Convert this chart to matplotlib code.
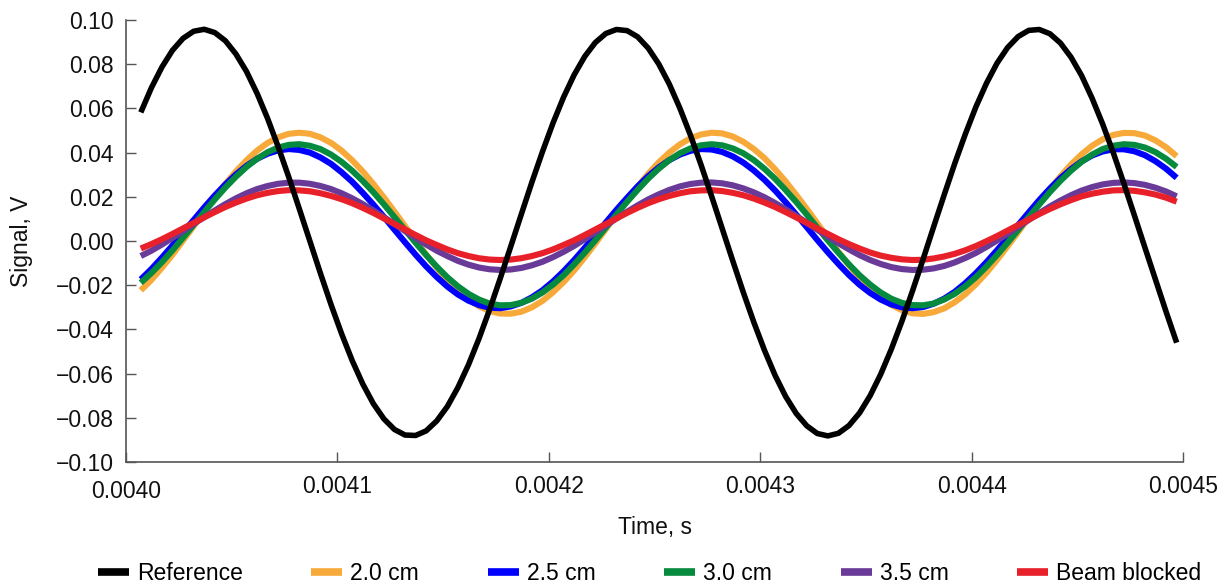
import matplotlib
matplotlib.use("Agg")
import matplotlib.pyplot as plt
from matplotlib.transforms import ScaledTranslation

plt.rcParams['font.family'] = ['Liberation Sans', 'DejaVu Sans']

# time samples in microseconds
time_us = [4007, 4012, 4017, 4022, 4027, 4032, 4037, 4042, 4047, 4052,
           4057, 4062, 4067, 4072, 4077, 4082, 4087, 4092, 4097, 4102,
           4107, 4112, 4117, 4122, 4127, 4132, 4137, 4142, 4147, 4152,
           4157, 4162, 4167, 4172, 4177, 4182, 4187, 4192, 4197, 4202,
           4207, 4212, 4217, 4222, 4227, 4232, 4237, 4242, 4247, 4252,
           4257, 4262, 4267, 4272, 4277, 4282, 4287, 4292, 4297, 4302,
           4307, 4312, 4317, 4322, 4327, 4332, 4337, 4342, 4347, 4352,
           4357, 4362, 4367, 4372, 4377, 4382, 4387, 4392, 4397, 4402,
           4407, 4412, 4417, 4422, 4427, 4432, 4437, 4442, 4447, 4452,
           4457, 4462, 4467, 4472, 4477, 4482, 4487, 4492, 4497]

reference = [0.0582, 0.0693, 0.0787, 0.0863, 0.0917, 0.0949, 0.0958, 0.0943, 0.0906, 0.0846,
             0.0767, 0.0668, 0.0554, 0.0426, 0.0289, 0.0145, -0.0001, -0.0147, -0.0288, -0.0420,
             -0.0541, -0.0647, -0.0736, -0.0805, -0.0853, -0.0878, -0.0880, -0.0859, -0.0814, -0.0749,
             -0.0663, -0.0560, -0.0441, -0.0310, -0.0170, -0.0025, 0.0121, 0.0266, 0.0404, 0.0534,
             0.0651, 0.0752, 0.0835, 0.0898, 0.0939, 0.0957, 0.0952, 0.0924, 0.0873, 0.0801,
             0.0710, 0.0601, 0.0479, 0.0345, 0.0203, 0.0057, -0.0089, -0.0232, -0.0368, -0.0494,
             -0.0607, -0.0703, -0.0780, -0.0836, -0.0871, -0.0882, -0.0870, -0.0835, -0.0778, -0.0700,
             -0.0603, -0.0490, -0.0364, -0.0227, -0.0084, 0.0063, 0.0208, 0.0350, 0.0483, 0.0606,
             0.0713, 0.0804, 0.0875, 0.0925, 0.0953, 0.0957, 0.0938, 0.0896, 0.0832, 0.0749,
             0.0646, 0.0529, 0.0400, 0.0261, 0.0116, -0.0030, -0.0175, -0.0320, -0.0460]

cm_2_0 = [-0.0223, -0.0176, -0.0121, -0.0062, 0.0002, 0.0067, 0.0132, 0.0197, 0.0258, 0.0315,
          0.0365, 0.0409, 0.0444, 0.0469, 0.0485, 0.0490, 0.0485, 0.0469, 0.0444, 0.0409,
          0.0365, 0.0315, 0.0258, 0.0197, 0.0133, 0.0067, 0.0002, -0.0061, -0.0121, -0.0176,
          -0.0223, -0.0264, -0.0295, -0.0317, -0.0328, -0.0329, -0.0320, -0.0300, -0.0271, -0.0232,
          -0.0186, -0.0133, -0.0074, -0.0011, 0.0054, 0.0119, 0.0184, 0.0246, 0.0304, 0.0356,
          0.0400, 0.0437, 0.0465, 0.0482, 0.0490, 0.0487, 0.0473, 0.0449, 0.0416, 0.0375,
          0.0325, 0.0270, 0.0209, 0.0146, 0.0080, 0.0015, -0.0049, -0.0110, -0.0165, -0.0214,
          -0.0256, -0.0289, -0.0313, -0.0327, -0.0330, -0.0322, -0.0305, -0.0277, -0.0241, -0.0196,
          -0.0144, -0.0086, -0.0024, 0.0040, 0.0106, 0.0171, 0.0234, 0.0292, 0.0346, 0.0392,
          0.0431, 0.0460, 0.0480, 0.0489, 0.0488, 0.0477, 0.0455, 0.0424, 0.0384]

cm_2_5 = [-0.0174, -0.0127, -0.0075, -0.0020, 0.0038, 0.0095, 0.0152, 0.0206, 0.0256, 0.0301,
          0.0340, 0.0372, 0.0395, 0.0410, 0.0416, 0.0412, 0.0400, 0.0378, 0.0349, 0.0311,
          0.0268, 0.0218, 0.0165, 0.0109, 0.0051, -0.0006, -0.0062, -0.0115, -0.0163, -0.0206,
          -0.0242, -0.0270, -0.0290, -0.0302, -0.0304, -0.0296, -0.0280, -0.0255, -0.0223, -0.0183,
          -0.0137, -0.0086, -0.0031, 0.0026, 0.0084, 0.0141, 0.0195, 0.0247, 0.0293, 0.0333,
          0.0366, 0.0391, 0.0408, 0.0416, 0.0414, 0.0403, 0.0383, 0.0355, 0.0319, 0.0277,
          0.0229, 0.0176, 0.0120, 0.0063, 0.0005, -0.0051, -0.0104, -0.0154, -0.0198, -0.0235,
          -0.0265, -0.0287, -0.0300, -0.0304, -0.0299, -0.0284, -0.0261, -0.0230, -0.0191, -0.0146,
          -0.0096, -0.0042, 0.0014, 0.0072, 0.0129, 0.0185, 0.0237, 0.0284, 0.0325, 0.0360,
          0.0387, 0.0405, 0.0415, 0.0415, 0.0406, 0.0388, 0.0361, 0.0327, 0.0286]

cm_3_0 = [-0.0189, -0.0145, -0.0096, -0.0042, 0.0015, 0.0073, 0.0131, 0.0188, 0.0242, 0.0291,
          0.0335, 0.0372, 0.0402, 0.0423, 0.0435, 0.0438, 0.0431, 0.0416, 0.0391, 0.0358,
          0.0318, 0.0272, 0.0221, 0.0166, 0.0108, 0.0050, -0.0008, -0.0064, -0.0116, -0.0164,
          -0.0205, -0.0239, -0.0265, -0.0283, -0.0291, -0.0290, -0.0280, -0.0261, -0.0233, -0.0197,
          -0.0155, -0.0106, -0.0053, 0.0003, 0.0061, 0.0120, 0.0177, 0.0231, 0.0282, 0.0327,
          0.0366, 0.0397, 0.0419, 0.0433, 0.0438, 0.0433, 0.0419, 0.0397, 0.0366, 0.0327,
          0.0282, 0.0231, 0.0177, 0.0120, 0.0061, 0.0003, -0.0053, -0.0106, -0.0155, -0.0197,
          -0.0233, -0.0261, -0.0280, -0.0290, -0.0291, -0.0283, -0.0265, -0.0239, -0.0205, -0.0164,
          -0.0116, -0.0064, -0.0008, 0.0050, 0.0108, 0.0165, 0.0221, 0.0272, 0.0318, 0.0358,
          0.0391, 0.0416, 0.0431, 0.0438, 0.0435, 0.0423, 0.0402, 0.0372, 0.0335]

cm_3_5 = [-0.0068, -0.0044, -0.0016, 0.0014, 0.0045, 0.0077, 0.0108, 0.0138, 0.0167, 0.0193,
          0.0216, 0.0235, 0.0249, 0.0259, 0.0264, 0.0264, 0.0259, 0.0249, 0.0235, 0.0216,
          0.0193, 0.0167, 0.0138, 0.0108, 0.0077, 0.0045, 0.0014, -0.0016, -0.0044, -0.0068,
          -0.0090, -0.0107, -0.0120, -0.0128, -0.0131, -0.0129, -0.0122, -0.0110, -0.0094, -0.0073,
          -0.0049, -0.0022, 0.0008, 0.0039, 0.0070, 0.0102, 0.0132, 0.0161, 0.0188, 0.0211,
          0.0231, 0.0247, 0.0258, 0.0264, 0.0265, 0.0261, 0.0252, 0.0238, 0.0220, 0.0198,
          0.0172, 0.0144, 0.0114, 0.0083, 0.0051, 0.0020, -0.0010, -0.0038, -0.0064, -0.0086,
          -0.0104, -0.0118, -0.0127, -0.0131, -0.0130, -0.0124, -0.0113, -0.0097, -0.0077, -0.0054,
          -0.0027, 0.0002, 0.0032, 0.0064, 0.0095, 0.0126, 0.0156, 0.0183, 0.0207, 0.0228,
          0.0244, 0.0256, 0.0263, 0.0265, 0.0262, 0.0254, 0.0241, 0.0224, 0.0202]

beam_blocked = [-0.0034, -0.0014, 0.0008, 0.0032, 0.0057, 0.0082, 0.0107, 0.0131, 0.0154, 0.0174,
                0.0192, 0.0207, 0.0218, 0.0226, 0.0230, 0.0229, 0.0225, 0.0216, 0.0204, 0.0189,
                0.0171, 0.0150, 0.0127, 0.0102, 0.0077, 0.0052, 0.0027, 0.0003, -0.0018, -0.0038,
                -0.0055, -0.0068, -0.0078, -0.0084, -0.0086, -0.0084, -0.0078, -0.0068, -0.0055, -0.0038,
                -0.0018, 0.0003, 0.0027, 0.0052, 0.0077, 0.0102, 0.0127, 0.0150, 0.0171, 0.0189,
                0.0204, 0.0216, 0.0225, 0.0229, 0.0230, 0.0226, 0.0218, 0.0207, 0.0192, 0.0174,
                0.0154, 0.0131, 0.0107, 0.0082, 0.0057, 0.0032, 0.0008, -0.0014, -0.0034, -0.0052,
                -0.0066, -0.0076, -0.0083, -0.0086, -0.0085, -0.0079, -0.0070, -0.0058, -0.0042, -0.0023,
                -0.0001, 0.0022, 0.0047, 0.0072, 0.0097, 0.0122, 0.0145, 0.0166, 0.0185, 0.0202,
                0.0214, 0.0223, 0.0229, 0.0230, 0.0227, 0.0220, 0.0210, 0.0196, 0.0178]

x_ticks = [0.0040, 0.0041, 0.0042, 0.0043, 0.0044, 0.0045]
x_tick_labels = ["0.0040", "0.0041", "0.0042", "0.0043", "0.0044", "0.0045"]
y_ticks = [-0.10, -0.08, -0.06, -0.04, -0.02, 0.00, 0.02, 0.04, 0.06, 0.08, 0.10]
y_tick_labels = ["\u22120.10", "\u22120.08", "\u22120.06", "\u22120.04", "\u22120.02",
                 "0.00", "0.02", "0.04", "0.06", "0.08", "0.10"]

t = [v * 1e-6 for v in time_us]

FS = 16.5
fig = plt.figure(figsize=(12.28, 5.88), dpi=100)
ax = fig.add_axes([126 / 1228, 1 - 462 / 588, (1183 - 126) / 1228, (462 - 20) / 588])

series = [
    ("2.0 cm", cm_2_0, "#F7A939"),
    ("2.5 cm", cm_2_5, "#0000FF"),
    ("3.0 cm", cm_3_0, "#068A3E"),
    ("3.5 cm", cm_3_5, "#6A3A98"),
    ("Beam blocked", beam_blocked, "#E8202A"),
]
handles = []
h_ref, = ax.plot(t, reference, color="black", lw=4.0, label="Reference", zorder=10,
                 solid_capstyle="butt", solid_joinstyle="round")
handles.append(h_ref)
for i, (lab, vals, col) in enumerate(series):
    h, = ax.plot(t, vals, color=col, lw=4.4, label=lab, zorder=3 + i,
                 solid_capstyle="butt", solid_joinstyle="round")
    handles.append(h)

ax.set_xlim(0.0040, 0.0045)
ax.set_ylim(-0.10, 0.10)
ax.set_xticks(x_ticks)
ax.set_xticklabels(x_tick_labels)
ax.set_yticks(y_ticks)
ax.set_yticklabels(y_tick_labels)

for s in ["top", "right"]:
    ax.spines[s].set_visible(False)
for s in ["left", "bottom"]:
    ax.spines[s].set_color("#555555")
    ax.spines[s].set_linewidth(1.2)

ax.tick_params(axis="both", direction="in", length=7.5, width=1.0, color="#555555",
               labelsize=FS, labelcolor="#111111")
ax.tick_params(axis="y", pad=9)
ax.tick_params(axis="x", pad=9.5)

# first x tick label sits slightly lower in the reference
first = ax.xaxis.get_major_ticks()[0].label1
first.set_transform(first.get_transform() + ScaledTranslation(0, -5 / 100, fig.dpi_scale_trans))

ax.set_xlabel("Time, s", fontsize=FS, color="#111111")
ax.xaxis.set_label_coords(0.5, -0.122)
ax.set_ylabel("Signal, V", fontsize=FS, color="#111111")
ax.yaxis.set_label_coords(-0.088, 0.5)

leg = fig.legend(handles=handles, labels=[h.get_label() for h in handles],
                 loc="center", bbox_to_anchor=(0.529, 0.024), ncol=6, frameon=False,
                 fontsize=FS, handlelength=1.35, handletextpad=0.35, columnspacing=3.0)
for lh in leg.get_lines():
    lh.set_linewidth(5.5)

fig.savefig("out.png", dpi=100)
